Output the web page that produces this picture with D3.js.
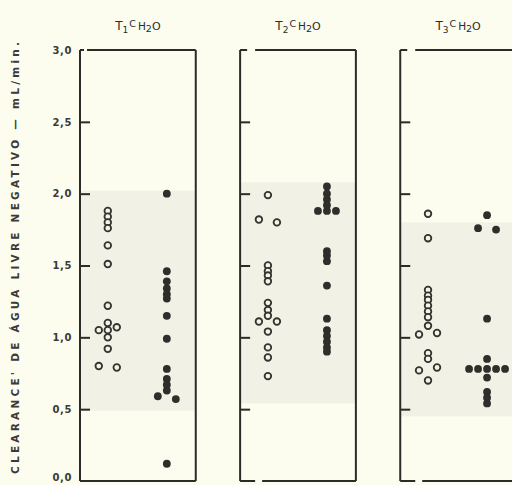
<!DOCTYPE html>
<html>
<head>
<meta charset="utf-8">
<script src="https://cdn.jsdelivr.net/npm/d3@7"></script>
<style>
  html, body { margin: 0; padding: 0; background: #fcfcef; }
  svg { display: block; }
</style>
</head>
<body>
<svg id="chart" width="512" height="485"></svg>
<script>
// ---------- data ----------
const panels = ["T1", "T2", "T3"];
const panelSub = ["1", "2", "3"];
const groups = ["open", "filled"];
const yTicks = [0, 0.5, 1.0, 1.5, 2.0, 2.5, 3.0];

// shaded (normal range) band per panel
const shadeTop = [2.02, 2.08, 1.80];
const shadeBottom = [0.49, 0.54, 0.45];

// panel T1
const open1 = [1.88, 1.84, 1.80, 1.76, 1.64, 1.51, 1.22, 1.10, 1.05, 1.05, 1.07, 1.00, 0.92, 0.80, 0.79];
const open1Slot = [0, 0, 0, 0, 0, 0, 0, 0, 0, -1, 1, 0, 0, -1, 1];
const filled1 = [2.00, 1.46, 1.39, 1.34, 1.30, 1.27, 1.15, 0.99, 0.78, 0.71, 0.67, 0.63, 0.59, 0.57, 0.12];
const filled1Slot = [0, 0, 0, 0, 0, 0, 0, 0, 0, 0, 0, 0, -1, 1, 0];

// panel T2
const open2 = [1.99, 1.82, 1.80, 1.50, 1.46, 1.43, 1.39, 1.24, 1.19, 1.15, 1.11, 1.11, 1.04, 0.93, 0.86, 0.73];
const open2Slot = [0, -1, 1, 0, 0, 0, 0, 0, 0, 0, -1, 1, 0, 0, 0, 0];
const filled2 = [2.05, 2.00, 1.96, 1.92, 1.88, 1.88, 1.88, 1.60, 1.57, 1.53, 1.36, 1.13, 1.05, 1.01, 0.97, 0.93, 0.90];
const filled2Slot = [0, 0, 0, 0, -1, 0, 1, 0, 0, 0, 0, 0, 0, 0, 0, 0, 0];

// panel T3
const open3 = [1.86, 1.69, 1.33, 1.29, 1.26, 1.22, 1.18, 1.14, 1.08, 1.02, 1.03, 0.89, 0.85, 0.77, 0.79, 0.70];
const open3Slot = [0, 0, 0, 0, 0, 0, 0, 0, 0, -1, 1, 0, 0, -1, 1, 0];
const filled3 = [1.85, 1.76, 1.75, 1.13, 0.85, 0.78, 0.78, 0.78, 0.78, 0.78, 0.72, 0.62, 0.58, 0.54];
const filled3Slot = [0, -1, 1, 0, 0, -2, -1, 0, 1, 2, 0, 0, 0, 0];

const yLabel = "CLEARANCE' DE ÁGUA LIVRE NEGATIVO — mL/min.";

// ---------- build ----------
const seriesData = [
  { open: open1, openSlot: open1Slot, filled: filled1, filledSlot: filled1Slot },
  { open: open2, openSlot: open2Slot, filled: filled2, filledSlot: filled2Slot },
  { open: open3, openSlot: open3Slot, filled: filled3, filledSlot: filled3Slot }
];

const svg = d3.select("#chart");
const ink = "#2b2b28";
const font = "DejaVu Sans, sans-serif";

const x = d3.scaleBand().domain(panels).range([80, 516]).paddingInner(0.277).paddingOuter(0);
const bw = x.bandwidth();
const inner = d3.scalePoint().domain(groups).range([bw * 0.24, bw * 0.75]);
const slotW = 9;
const y = d3.scaleLinear().domain([0, 3]).range([481, 50]);

panels.forEach((p, i) => {
  const left = x(p);
  const right = left + bw;
  const g = svg.append("g");

  // shaded band
  g.append("rect")
    .attr("x", left).attr("width", bw)
    .attr("y", y(shadeTop[i]))
    .attr("height", y(shadeBottom[i]) - y(shadeTop[i]))
    .attr("fill", "#f1f1e6");

  // frame
  const fr = g.append("g").attr("stroke", ink).attr("stroke-width", 2).attr("fill", "none");
  fr.append("line").attr("x1", left).attr("x2", left).attr("y1", y(3)).attr("y2", y(0));
  fr.append("line").attr("x1", right).attr("x2", right).attr("y1", y(3)).attr("y2", y(0));
  const topGapA = i === 0 ? 4 : 7, topGapB = i === 0 ? 7 : 15;
  fr.append("line").attr("x1", left).attr("x2", left + topGapA).attr("y1", y(3)).attr("y2", y(3));
  fr.append("line").attr("x1", left + topGapB).attr("x2", right).attr("y1", y(3)).attr("y2", y(3));
  if (i === 0) {
    fr.append("line").attr("x1", left).attr("x2", right).attr("y1", y(0)).attr("y2", y(0));
  } else {
    fr.append("line").attr("x1", left).attr("x2", left + 15).attr("y1", y(0)).attr("y2", y(0));
    fr.append("line").attr("x1", left + 22).attr("x2", right).attr("y1", y(0)).attr("y2", y(0));
  }

  // inward ticks
  const tickAxis = d3.axisRight(y).tickValues(yTicks.filter(v => v > 0 && v < 3)).tickSize(10).tickFormat("");
  const ta = g.append("g").attr("transform", `translate(${left},0)`).call(tickAxis);
  ta.select(".domain").remove();
  ta.selectAll(".tick line").attr("stroke", ink).attr("stroke-width", 2);

  // title
  const t = svg.append("text")
    .attr("x", left + bw / 2).attr("y", 30)
    .attr("text-anchor", "middle")
    .attr("font-family", font)
    .attr("fill", ink);
  t.append("tspan").attr("font-size", 12).text("T");
  t.append("tspan").attr("font-size", 9).attr("dy", 3).text(panelSub[i]);
  t.append("tspan").attr("font-size", 9.5).attr("dy", -6).attr("dx", 1).text("C");
  t.append("tspan").attr("font-size", 10.5).attr("dy", 3).attr("dx", 2).text("H");
  t.append("tspan").attr("font-size", 9.5).attr("dy", 2).text("2");
  t.append("tspan").attr("font-size", 11).attr("dy", -2).text("O");

  // points
  const s = seriesData[i];
  const pts = g.append("g").attr("transform", `translate(${left},0)`);
  pts.selectAll("circle.open")
    .data(s.open.map((v, k) => ({ v, slot: s.openSlot[k] })))
    .join("circle")
    .attr("class", "open")
    .attr("cx", d => inner("open") + d.slot * slotW)
    .attr("cy", d => y(d.v))
    .attr("r", 3.3)
    .attr("fill", "#f4f3e6")
    .attr("stroke", "#33332f")
    .attr("stroke-width", 1.8);
  pts.selectAll("circle.filled")
    .data(s.filled.map((v, k) => ({ v, slot: s.filledSlot[k] })))
    .join("circle")
    .attr("class", "filled")
    .attr("cx", d => inner("filled") + d.slot * slotW)
    .attr("cy", d => y(d.v))
    .attr("r", 3.9)
    .attr("fill", "#2e2e2a");
});

// left tick labels (first panel)
const labAxis = d3.axisLeft(y).tickValues(yTicks).tickSize(0).tickPadding(8)
  .tickFormat(d => d3.format(".1f")(d).replace(".", ","));
const la = svg.append("g").attr("transform", `translate(${x(panels[0])},0)`).call(labAxis);
la.select(".domain").remove();
la.selectAll(".tick text")
  .attr("font-family", font)
  .attr("font-size", 10)
  .attr("font-weight", "bold")
  .attr("letter-spacing", 0.6)
  .attr("fill", "#3a3a36")
  .attr("dy", d => d === 0 ? "-0.05em" : "0.32em");

// y-axis label
svg.append("text")
  .attr("transform", "translate(19,258) rotate(-90)")
  .attr("text-anchor", "middle")
  .attr("font-family", font)
  .attr("font-size", 10.5)
  .attr("font-weight", "bold")
  .attr("fill", "#3a3a36")
  .attr("textLength", 432)
  .attr("lengthAdjust", "spacing")
  .text(yLabel);
</script>
</body>
</html>
